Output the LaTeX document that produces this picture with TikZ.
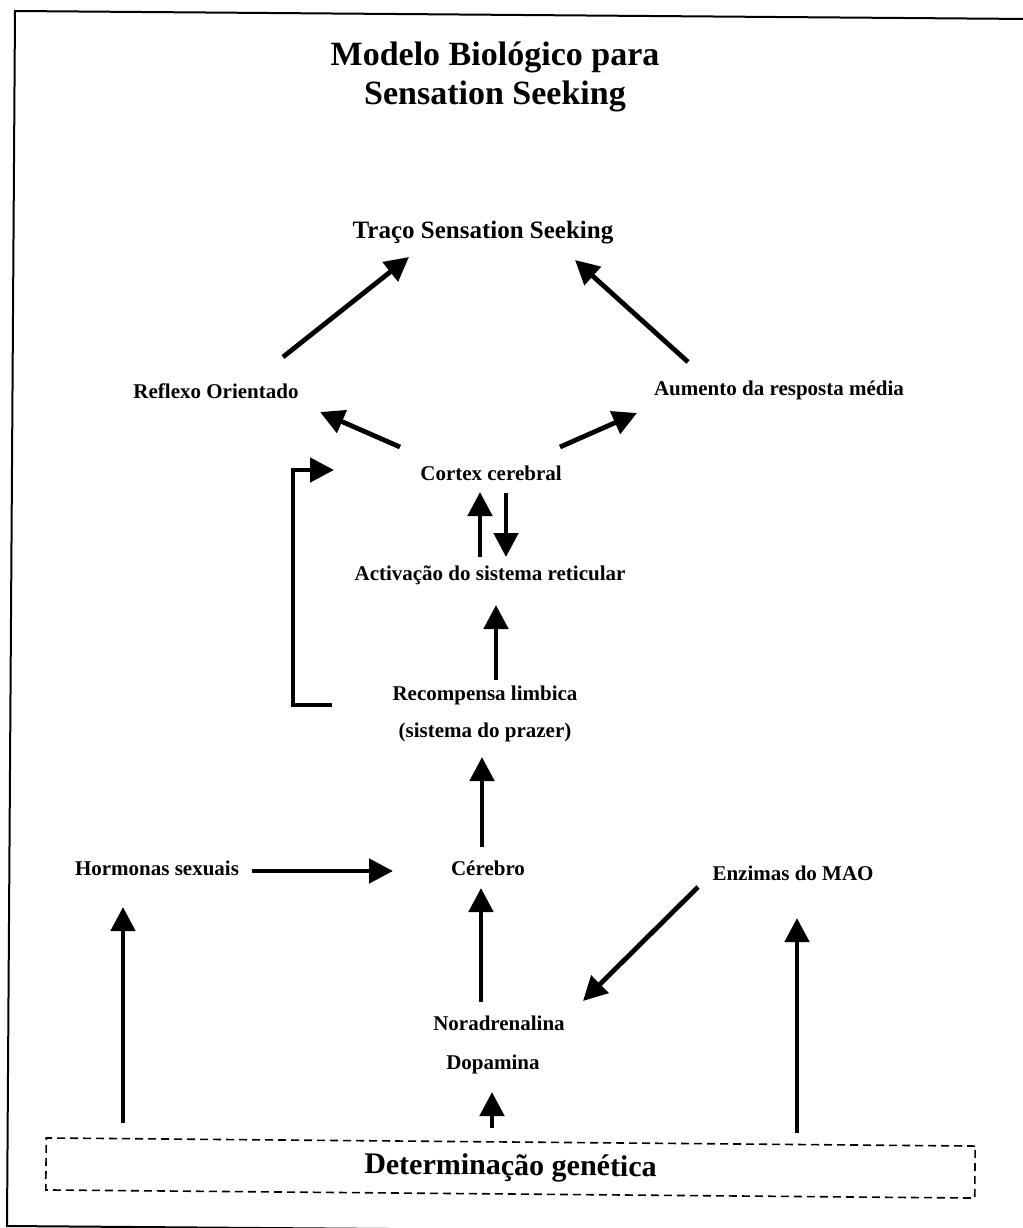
\documentclass[tikz,border=0pt]{standalone}
\usepackage{fontspec}
\setmainfont{Liberation Serif}
\usetikzlibrary{arrows.meta}
\begin{document}
\begin{tikzpicture}[x=1pt,y=-1pt,
  lbl/.style={font=\fontsize{21}{25}\selectfont\bfseries, inner sep=0pt, anchor=base},
  heading/.style={font=\fontsize{34}{40}\selectfont\bfseries, inner sep=0pt, anchor=base},
  trait/.style={font=\fontsize{25}{30}\selectfont\bfseries, inner sep=0pt, anchor=base},
  genbox/.style={draw, line width=1.6pt, dash pattern=on 8pt off 5pt,
    font=\fontsize{30}{36}\selectfont\bfseries, inner sep=0pt,
    minimum width=929pt, minimum height=52pt, rotate=-0.5},
  arr/.style={line width=4.8pt, -{Triangle[length=24pt,width=24pt]}},
]
\useasboundingbox (0,0) rectangle (1022,1228);

% outer frame (open on the right)
\draw[line width=2pt] (1030,19) -- (15,11) -- (7,1226) -- (1030,1234);

% headings
\node[heading] (t1) at (495,66) {Modelo Biológico para};
\node[heading] (t2) at (495,105) {Sensation Seeking};

% nodes
\node[trait] (trait) at (483,238) {Traço Sensation Seeking};
\node[lbl] (refl) at (216,398) {Reflexo Orientado};
\node[lbl] (aum) at (779,395) {Aumento da resposta média};
\node[lbl] (cortex) at (491,480) {Cortex cerebral};
\node[lbl] (activ) at (490,580) {Activação do sistema reticular};
\node[lbl] (recomp) at (485,700) {Recompensa limbica};
\node[lbl] (prazer) at (485,737) {(sistema do prazer)};
\node[lbl] (horm) at (157,875) {Hormonas sexuais};
\node[lbl] (cereb) at (488,875) {Cérebro};
\node[lbl] (mao) at (793,880) {Enzimas do MAO};
\node[lbl] (nora) at (499,1030) {Noradrenalina};
\node[lbl] (dopa) at (493,1069) {Dopamina};
\node[genbox] (gen) at (510.5,1168) {Determinação genética};

% connector end points
\coordinate (reflOut) at (283,357);   \coordinate (traitL) at (409,257);
\coordinate (aumOut) at (688,362);    \coordinate (traitR) at (575,260);
\coordinate (cortexL) at (400,447);   \coordinate (reflIn) at (320,412);
\coordinate (cortexR) at (560,447);   \coordinate (aumIn) at (637,413);
\coordinate (activUp) at (480,557);   \coordinate (cortexInUp) at (480,492);
\coordinate (cortexDn) at (506,493);  \coordinate (activInDn) at (506,557);
\coordinate (recompUp) at (496,680);  \coordinate (activIn) at (496,605);
\coordinate (cerebUp) at (482,847);   \coordinate (recompIn) at (482,757);
\coordinate (hormOut) at (252,871);   \coordinate (cerebIn) at (393,871);
\coordinate (noraUp) at (481,1002);   \coordinate (cerebInB) at (481,888);
\coordinate (maoOut) at (698,887);    \coordinate (noraIn) at (583,1001);
\coordinate (genDopa) at (492,1128);  \coordinate (dopaIn) at (492,1092);
\coordinate (genHorm) at (123,1123);  \coordinate (hormIn) at (123,907);
\coordinate (genMao) at (797,1133);   \coordinate (maoIn) at (797,918);
\coordinate (fbA) at (332,705);       \coordinate (fbB) at (293,705);
\coordinate (fbC) at (293,470);       \coordinate (fbD) at (334,470);

% connectors
\draw[arr] (reflOut) -- (traitL);
\draw[arr] (aumOut) -- (traitR);
\draw[arr] (cortexL) -- (reflIn);
\draw[arr] (cortexR) -- (aumIn);
\draw[arr] (activUp) -- (cortexInUp);
\draw[arr] (cortexDn) -- (activInDn);
\draw[arr] (recompUp) -- (activIn);
\draw[arr, line join=miter] (fbA) -- (fbB) -- (fbC) -- (fbD);
\draw[arr] (cerebUp) -- (recompIn);
\draw[arr] (hormOut) -- (cerebIn);
\draw[arr] (noraUp) -- (cerebInB);
\draw[arr] (maoOut) -- (noraIn);
\draw[arr] (genDopa) -- (dopaIn);
\draw[arr] (genHorm) -- (hormIn);
\draw[arr] (genMao) -- (maoIn);
\end{tikzpicture}
\end{document}
